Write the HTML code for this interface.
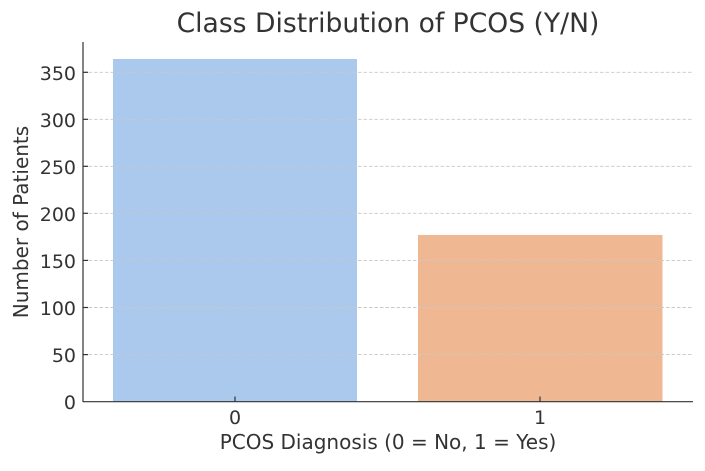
<!DOCTYPE html>
<html><head><style>html,body{margin:0;padding:0;background:#fff}</style></head><body>
<svg width="705" height="466" xmlns="http://www.w3.org/2000/svg" font-family="'DejaVu Sans', 'Liberation Sans', sans-serif" fill="#333">
<rect x="113" y="59" width="244" height="343" fill="#abc9ec"/>
<rect x="418" y="235" width="244.5" height="167" fill="#f0b892"/>
<g stroke="#c8c8c8" stroke-width="0.9" stroke-dasharray="3.5,2">
<line x1="83" x2="693" y1="354.6" y2="354.6"/>
<line x1="83" x2="693" y1="307.5" y2="307.5"/>
<line x1="83" x2="693" y1="260.4" y2="260.4"/>
<line x1="83" x2="693" y1="213.3" y2="213.3"/>
<line x1="83" x2="693" y1="166.3" y2="166.3"/>
<line x1="83" x2="693" y1="119.3" y2="119.3"/>
<line x1="83" x2="693" y1="72.3" y2="72.3"/>
</g>
<g stroke="#333" stroke-width="1.2">
<line x1="83" x2="83" y1="42" y2="402"/>
<line x1="83" x2="693" y1="401.7" y2="401.7"/>
<line x1="83" x2="88" y1="354.6" y2="354.6"/>
<line x1="83" x2="88" y1="307.5" y2="307.5"/>
<line x1="83" x2="88" y1="260.4" y2="260.4"/>
<line x1="83" x2="88" y1="213.3" y2="213.3"/>
<line x1="83" x2="88" y1="166.3" y2="166.3"/>
<line x1="83" x2="88" y1="119.3" y2="119.3"/>
<line x1="83" x2="88" y1="72.3" y2="72.3"/>
<line x1="235" x2="235" y1="396.5" y2="401.7"/>
<line x1="540" x2="540" y1="396.5" y2="401.7"/>
</g>
<g font-size="19" text-anchor="end">
<text x="76" y="409">0</text>
<text x="76" y="362">50</text>
<text x="76" y="315">100</text>
<text x="76" y="268">150</text>
<text x="76" y="221">200</text>
<text x="76" y="174">250</text>
<text x="76" y="127">300</text>
<text x="76" y="80">350</text>
</g>
<g font-size="19" text-anchor="middle">
<text x="235" y="424">0</text>
<text x="540" y="424">1</text>
<text x="388" y="449" font-size="20">PCOS Diagnosis (0 = No, 1 = Yes)</text>
<text x="388" y="32" font-size="26.6">Class Distribution of PCOS (Y/N)</text>
<text transform="translate(28,222) rotate(-90)" font-size="20">Number of Patients</text>
</g>
</svg>
</body></html>
